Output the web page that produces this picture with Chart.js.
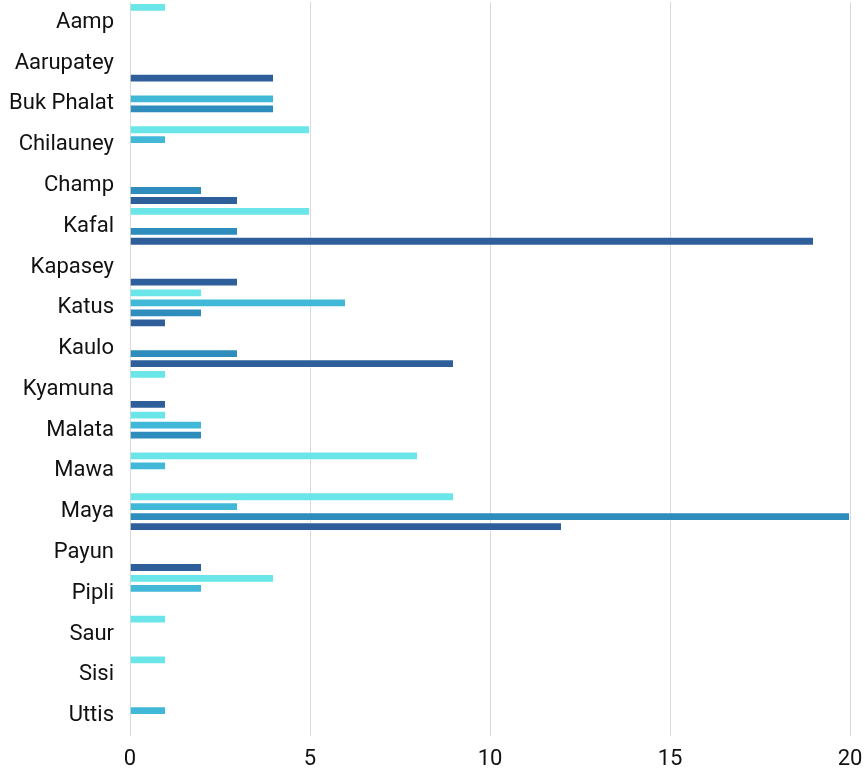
<!DOCTYPE html>
<html>
<head>
<meta charset="utf-8">
<script src="https://cdn.jsdelivr.net/npm/chart.js@4"></script>
<style>
  html, body { margin: 0; padding: 0; background: #fff; }
  #wrap { width: 865px; height: 768px; position: relative; }
</style>
</head>
<body>
<div id="wrap"><canvas id="myBarChart"></canvas></div>
<script>
// categories and series
const categories = ['Aamp', 'Aarupatey', 'Buk Phalat', 'Chilauney', 'Champ', 'Kafal', 'Kapasey', 'Katus', 'Kaulo',
    'Kyamuna', 'Malata', 'Mawa', 'Maya', 'Payun', 'Pipli', 'Saur', 'Sisi', 'Uttis'];
const series1 = [1, 0, 0, 5, 0, 5, 0, 2, 0, 1, 1, 8, 9, 0, 4, 1, 1, 0];
const series2 = [0, 0, 4, 1, 0, 0, 0, 6, 0, 0, 2, 1, 3, 0, 2, 0, 0, 1];
const series3 = [0, 0, 4, 0, 2, 3, 0, 2, 3, 0, 2, 0, 20, 0, 0, 0, 0, 0];
const series4 = [0, 4, 0, 0, 3, 19, 3, 1, 9, 1, 0, 0, 12, 2, 0, 0, 0, 0];
const xTicks = [0, 5, 10, 15, 20];

const colors = ['#6ae6e9', '#42b8d8', '#2f8dbe', '#2f5f9b'];
const FONT = 'Roboto';

function ds(values, i) {
    return {
        data: values.map(v => v === 0 ? null : v),
        backgroundColor: colors[i],
        borderColor: 'rgba(255,255,255,0.45)',
        borderWidth: 1,
        categoryPercentage: 0.98,
        barPercentage: 0.88
    };
}

function initChart() {
    const ctx = document.getElementById('myBarChart');
    if (!ctx) return;

    new Chart(ctx, {
        type: 'bar',
        data: {
            labels: categories,
            datasets: [ds(series1, 0), ds(series2, 1), ds(series3, 2), ds(series4, 3)]
        },
        options: {
            indexAxis: 'y',
            responsive: true,
            maintainAspectRatio: false,
            animation: false,
            layout: { padding: { top: 2, right: 15, bottom: 0, left: 0 } },
            plugins: {
                legend: { display: false },
                tooltip: { enabled: false }
            },
            scales: {
                x: {
                    min: 0,
                    max: 20,
                    afterBuildTicks: function (scale) {
                        scale.ticks = xTicks.map(v => ({ value: v }));
                    },
                    afterFit: function (scale) {
                        scale.height = 32;
                        scale.paddingLeft = 0;
                        scale.paddingRight = 0;
                    },
                    grid: { color: '#d9d9d9', lineWidth: 1, drawTicks: false },
                    border: { display: false },
                    ticks: {
                        padding: 10,
                        color: '#111111',
                        font: { family: FONT, size: 22 }
                    }
                },
                y: {
                    afterFit: function (scale) {
                        scale.width = 130;
                        scale.paddingTop = 0;
                        scale.paddingBottom = 0;
                    },
                    grid: { display: false, drawTicks: false },
                    border: { display: false },
                    ticks: {
                        padding: 16,
                        color: '#111111',
                        font: { family: FONT, size: 22 }
                    }
                }
            }
        }
    });
}

if (document.readyState === 'complete') {
    initChart();
} else {
    document.addEventListener('DOMContentLoaded', initChart);
}
</script>
</body>
</html>
